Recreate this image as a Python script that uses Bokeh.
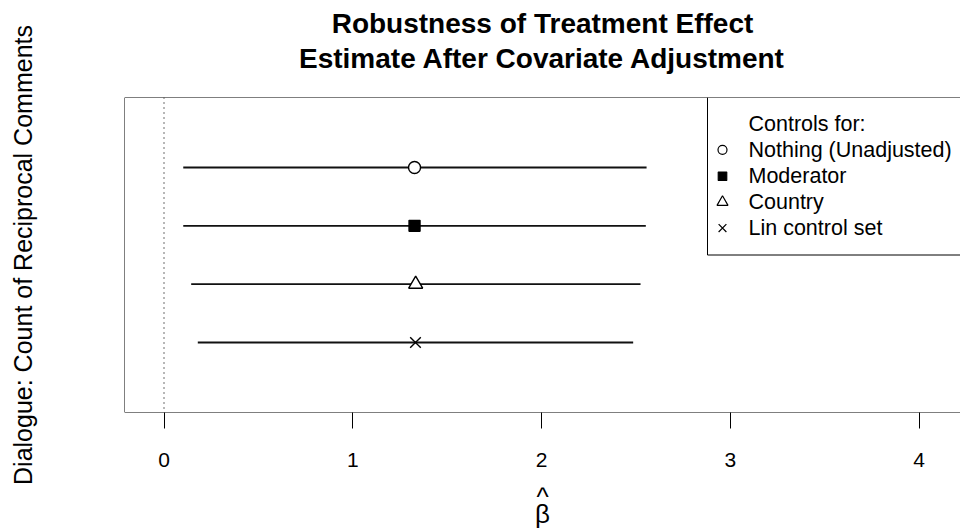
import math
from bokeh.plotting import figure
from bokeh.models import Span, Label, FixedTicker, Title
from bokeh.embed import file_html
from bokeh.resources import INLINE

# ---------------- data ----------------
title_lines = ["Robustness of Treatment Effect", "Estimate After Covariate Adjustment"]
y_label = "Dialogue: Count of Reciprocal Comments"
x_label = "^\n\u03b2"
legend_title = "Controls for:"
models = ["Nothing (Unadjusted)", "Moderator", "Country", "Lin control set"]
markers = ["circle", "square", "triangle", "x"]
marker_fill = ["white", "black", "white", None]
row_pos = [4, 3, 2, 1]
estimate = [1.327, 1.327, 1.333, 1.332]
ci_lower = [0.102, 0.102, 0.144, 0.179]
ci_upper = [2.556, 2.552, 2.524, 2.485]
x_ticks = [0, 1, 2, 3, 4]
ref_value = 0
y_lim = (-0.2, 5.2)

# ---------------- geometry (page pixels -> data) ----------------
W, H = 960, 531
FRAME_L, FRAME_T, FRAME_B = 124, 97, 413      # page px
X0_PAGE, PX_PER_UNIT = 163.5, 188.8            # page px of x=0, px per unit


def px(P):
    return (P - X0_PAGE) / PX_PER_UNIT


def py(P):
    return y_lim[1] - (P - FRAME_T) / (FRAME_B - FRAME_T) * (y_lim[1] - y_lim[0])


x_start = px(FRAME_L)
x_end = px(W)

FONT = "Liberation Sans"

p = figure(width=W, height=H, x_range=(x_start, x_end), y_range=y_lim,
           output_backend="svg", toolbar_location=None, title=None,
           min_border_left=FRAME_L, min_border_right=0,
           min_border_top=FRAME_T, min_border_bottom=H - FRAME_B)
p.outline_line_color = None
p.grid.visible = False
p.background_fill_color = "white"
p.border_fill_color = "white"

# title: spacer nearest the frame, then line 2, then line 1
p.add_layout(Title(text=" ", text_font_size="1px", standoff=20), "above")
for line in reversed(title_lines):
    p.add_layout(Title(text=line, align="center", text_font=FONT, text_font_size="28px",
                       text_font_style="bold", text_color="black", standoff=2), "above")

# x axis
ax = p.xaxis[0]
ax.ticker = FixedTicker(ticks=x_ticks)
ax.axis_line_color = None
ax.major_tick_in = 0
ax.major_tick_out = 16
ax.major_tick_line_color = "black"
ax.minor_tick_line_color = None
ax.major_label_text_font = FONT
ax.major_label_text_font_size = "21px"
ax.major_label_text_color = "black"
ax.major_label_standoff = 24
ax.axis_label = x_label
ax.axis_label_text_font = FONT
ax.axis_label_text_font_size = "26px"
ax.axis_label_text_font_style = "normal"
ax.axis_label_text_color = "black"
ax.axis_label_text_line_height = 0.58
ax.axis_label_standoff = 12

# y axis: label only
ay = p.yaxis[0]
ay.ticker = FixedTicker(ticks=[])
ay.axis_line_color = None
ay.major_tick_line_color = None
ay.minor_tick_line_color = None
ay.major_label_text_font_size = "0px"
ay.axis_label = y_label
ay.axis_label_text_font = FONT
ay.axis_label_text_font_size = "25px"
ay.axis_label_text_font_style = "normal"
ay.axis_label_text_color = "black"
ay.axis_label_standoff = 88

# frame (top, bottom, left)
for loc, dim in [(y_lim[0], "width"), (y_lim[1], "width"), (x_start, "height")]:
    p.add_layout(Span(location=loc, dimension=dim, line_color="black", line_width=1))

# reference line at 0
p.add_layout(Span(location=ref_value, dimension="height", line_color="#222222",
                  line_width=1.3, line_dash="1 4"))

# intervals
p.segment(x0=ci_lower, y0=row_pos, x1=ci_upper, y1=row_pos,
          line_color="#111111", line_width=1.8)

# point estimates
plot_sizes = {"circle": 12, "square": 11, "triangle": 14, "x": 15}
for est, yy, mk, fc in zip(estimate, row_pos, markers, marker_fill):
    p.scatter(x=[est], y=[yy], marker=mk, size=plot_sizes[mk],
              fill_color=fc, line_color="black", line_width=1.4)

# legend box (left and bottom edges)
lg_left, lg_bottom = 707, 255
p.segment(x0=[px(lg_left), px(lg_left)], y0=[py(FRAME_T), py(lg_bottom)],
          x1=[px(lg_left), x_end], y1=[py(lg_bottom), py(lg_bottom)],
          line_color="black", line_width=1)

rows = [123.5, 149.5, 176, 202, 228]
LEG_FS = 21.5
p.add_layout(Label(x=px(748), y=py(rows[0]), text=legend_title,
                   text_font=FONT, text_font_size=f"{LEG_FS}px", text_color="black",
                   text_align="left", text_baseline="middle"))
leg_sizes = {"circle": 9, "square": 8.5, "triangle": 11, "x": 11}
for name, mk, fc, r in zip(models, markers, marker_fill, rows[1:]):
    p.scatter(x=[px(722)], y=[py(r)], marker=mk, size=leg_sizes[mk],
              fill_color=fc, line_color="black", line_width=1.2)
    p.add_layout(Label(x=px(748), y=py(r), text=name,
                       text_font=FONT, text_font_size=f"{LEG_FS}px", text_color="black",
                       text_align="left", text_baseline="middle"))

open("out.html", "w").write(file_html(p, INLINE))
